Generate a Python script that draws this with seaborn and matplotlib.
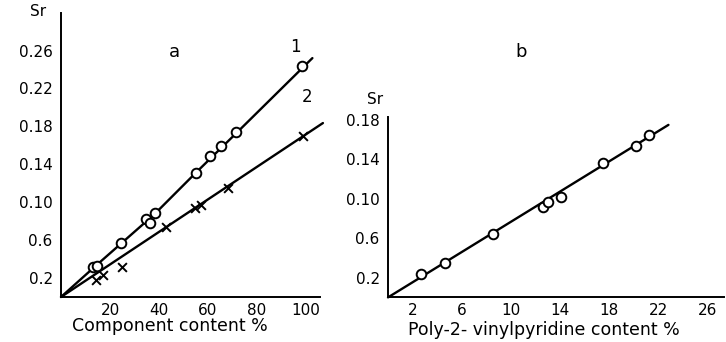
import matplotlib
matplotlib.use("Agg")
import matplotlib.pyplot as plt
import seaborn as sns

sns.set_style("white")
plt.rcParams["font.family"] = ["DejaVu Sans"]
plt.rcParams["text.color"] = "black"
plt.rcParams["axes.labelcolor"] = "black"

# panel a: curve 1 (circles), curve 2 (crosses)
comp1_x = [13.2, 14.6, 24.6, 34.8, 36.3, 38.2, 55.2, 60.7, 65.4, 71.6, 98.5]
comp1_y = [0.032, 0.033, 0.0566, 0.082, 0.0784, 0.0883, 0.131, 0.149, 0.159, 0.174, 0.244]
fit1_x = [0, 14, 38, 55, 72, 102.6]
fit1_y = [0, 0.0325, 0.087, 0.131, 0.174, 0.252]

comp2_x = [14.1, 17.3, 24.8, 43.0, 54.8, 57.3, 68.0, 98.8]
comp2_y = [0.018, 0.023, 0.032, 0.074, 0.0936, 0.097, 0.115, 0.170]
fit2_x = [0, 106.9]
fit2_y = [0, 0.1835]

# panel b
pvp_x = [2.68, 4.63, 8.51, 12.58, 13.04, 14.1, 17.5, 20.2, 21.2]
pvp_y = [0.0235, 0.0352, 0.064, 0.0914, 0.097, 0.1015, 0.1366, 0.1535, 0.1647]
fitb_x = [0, 22.8]
fitb_y = [0, 0.175]

a_yticks = [0.02, 0.06, 0.10, 0.14, 0.18, 0.22, 0.26]
a_ylabels = ["0.2", "0.6", "0.10", "0.14", "0.18", "0.22", "0.26"]
a_xticks = [20, 40, 60, 80, 100]
b_yticks = [0.02, 0.06, 0.10, 0.14, 0.18]
b_ylabels = ["0.2", "0.6", "0.10", "0.14", "0.18"]
b_xticks = [2, 6, 10, 14, 18, 22, 26]

W, H = 726, 342
fig = plt.figure(figsize=(W / 100, H / 100), dpi=100)
ax1 = fig.add_axes([61 / W, 45 / H, 258.5 / W, 284.4 / H])
ax2 = fig.add_axes([388 / W, 44.6 / H, 335.8 / W, 180.4 / H])

lw = 1.7
sns.lineplot(x=fit1_x, y=fit1_y, ax=ax1, color="black", lw=lw, estimator=None)
sns.lineplot(x=fit2_x, y=fit2_y, ax=ax1, color="black", lw=lw, estimator=None)
sns.scatterplot(x=comp1_x, y=comp1_y, ax=ax1, marker="o", s=48,
                facecolor="white", edgecolor="black", linewidth=1.4, zorder=3)
sns.scatterplot(x=comp2_x, y=comp2_y, ax=ax1, marker="x", s=40,
                color="black", linewidth=1.4, zorder=3)

sns.lineplot(x=fitb_x, y=fitb_y, ax=ax2, color="black", lw=lw, estimator=None)
sns.scatterplot(x=pvp_x, y=pvp_y, ax=ax2, marker="o", s=48,
                facecolor="white", edgecolor="black", linewidth=1.4, zorder=3)

ax1.set_xlim(0, 105.5)
ax1.set_ylim(0, 0.30)
ax2.set_xlim(0, 27.3)
ax2.set_ylim(0, 0.183)

ax1.set_xticks(a_xticks)
ax1.set_xticks(range(10, 101, 10), minor=True)
ax1.set_yticks(a_yticks, a_ylabels)
ax1.set_yticks([0.02 * i for i in range(1, 14)], minor=True)
ax2.set_xticks(b_xticks)
ax2.set_xticks(range(2, 27, 2), minor=True)
ax2.set_yticks(b_yticks, b_ylabels)
ax2.set_yticks([0.02 * i for i in range(1, 10)], minor=True)

for ax in (ax1, ax2):
    sns.despine(ax=ax)
    for s in ("left", "bottom"):
        ax.spines[s].set_linewidth(1.4)
        ax.spines[s].set_color("black")
    ax.tick_params(which="both", direction="in", length=5, width=1.2,
                   color="black", labelsize=11, pad=4, labelcolor="black")
    ax.tick_params(axis="y", pad=6)
    for ln in ax.lines:
        ln.set_clip_on(False)
    for c in ax.collections:
        c.set_clip_on(False)

ax1.set_xlabel("Component content %", fontsize=12.5, color="black")
ax1.xaxis.set_label_coords((170 - 61) / 258.5, (297 - 326) / 284.4)
ax1.xaxis.label.set_va("center")
ax2.set_xlabel("Poly-2- vinylpyridine content %", fontsize=12.5, color="black")
ax2.xaxis.set_label_coords((544 - 388) / 335.8, (297.4 - 330) / 180.4)
ax2.xaxis.label.set_va("center")


def ftext(px, py, s, size=11):
    fig.text(px / W, 1 - py / H, s, fontsize=size, ha="center", va="center")


ftext(38, 11, "Sr", 11)
ftext(375, 99, "Sr", 11)
ftext(174, 52, "a", 13)
ftext(521, 52, "b", 13)
ftext(295, 47, "1", 12)
ftext(307, 97, "2", 12)

fig.savefig("out.png", dpi=100)
